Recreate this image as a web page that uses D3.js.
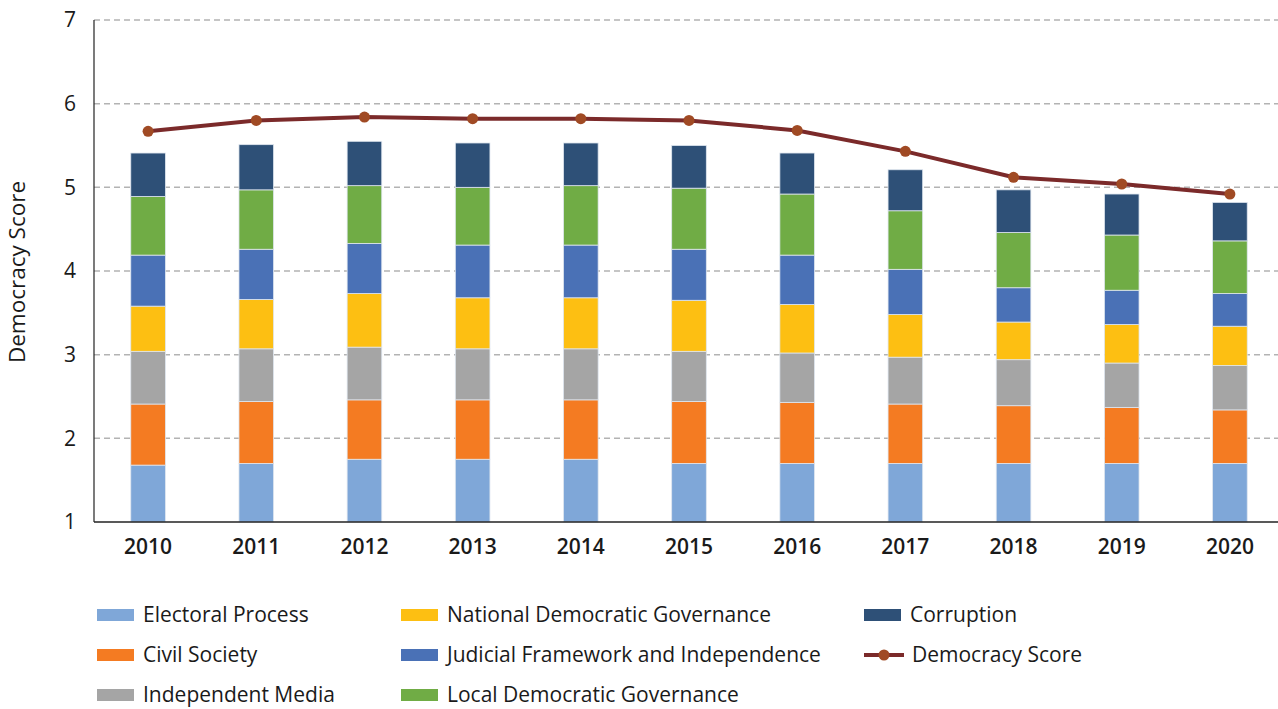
<!DOCTYPE html>
<html>
<head>
<meta charset="utf-8">
<script src="https://cdn.jsdelivr.net/npm/d3@7"></script>
<style>
  body { margin: 0; background: #fff; }
  text { font-family: "Open Sans", Lato, sans-serif; fill: #1a1a1a; }
</style>
</head>
<body>
<div class="container"></div>
<script>
// data (segment heights, stacked from 1)
var years = ["2010","2011","2012","2013","2014","2015","2016","2017","2018","2019","2020"];
var categories = ["Electoral Process","Civil Society","Independent Media","National Democratic Governance",
  "Judicial Framework and Independence","Local Democratic Governance","Corruption"];
var colors = ["#7fa7d8","#f47b22","#a5a5a5","#fdbf12","#4a71b6","#70ac45","#2e5077"];

var electoral   = [0.68,0.70,0.75,0.75,0.75,0.70,0.70,0.70,0.70,0.70,0.70];
var civil       = [0.73,0.74,0.71,0.71,0.71,0.74,0.73,0.71,0.69,0.67,0.64];
var media       = [0.63,0.63,0.63,0.61,0.61,0.60,0.59,0.56,0.55,0.53,0.53];
var national    = [0.54,0.59,0.64,0.61,0.61,0.61,0.58,0.51,0.45,0.46,0.47];
var judicial    = [0.61,0.60,0.60,0.63,0.63,0.61,0.59,0.54,0.41,0.41,0.39];
var local       = [0.70,0.71,0.69,0.69,0.71,0.73,0.73,0.70,0.66,0.66,0.63];
var corruption  = [0.52,0.54,0.53,0.53,0.51,0.51,0.49,0.49,0.51,0.49,0.46];
var democracyScore = [5.67,5.80,5.84,5.82,5.82,5.80,5.68,5.43,5.12,5.04,4.92];

var yTicks = [1,2,3,4,5,6,7];

var series = [electoral,civil,media,national,judicial,local,corruption];
var rows = years.map(function(y,i) {
  var r = {year:y};
  categories.forEach(function(c,j) { r[c] = series[j][i]; });
  return r;
});

var W = 1278, H = 709;
var plotLeft = 94, plotRight = 1284, plotTop = 20, plotBottom = 522;

var svg = d3.select(".container").append("svg")
  .attr("width",W).attr("height",H);

var x = d3.scaleBand().domain(years).range([plotLeft,plotRight]).paddingInner(0.68).paddingOuter(0.34);
var y = d3.scaleLinear().domain([1,7]).range([plotBottom,plotTop]);

// gridlines
svg.append("g").selectAll("line")
  .data(yTicks.slice(1))
  .enter().append("line")
  .attr("x1",plotLeft).attr("x2",1278)
  .attr("y1",function(d){return y(d);}).attr("y2",function(d){return y(d);})
  .style("stroke","#b3b3b3").style("stroke-width",1.5).style("stroke-dasharray","6,4");

// y tick labels
svg.append("g").selectAll("text")
  .data(yTicks)
  .enter().append("text")
  .attr("x",76).attr("y",function(d){return y(d);})
  .attr("dy","0.35em").attr("text-anchor","end")
  .style("font-size","21px")
  .text(function(d){return d;});

// stacked bars
var stack = d3.stack().keys(categories)(rows);
svg.append("g").selectAll("g")
  .data(stack)
  .enter().append("g")
  .style("fill",function(d,i){return colors[i];})
  .selectAll("rect")
  .data(function(d){return d;})
  .enter().append("rect")
  .attr("x",function(d){return x(d.data.year);})
  .attr("width",x.bandwidth())
  .attr("y",function(d){return y(1+d[1]);})
  .attr("height",function(d){return y(1+d[0]) - y(1+d[1]);})
  .style("stroke","#dfe6ef").style("stroke-width",0.8);

// axes lines
svg.append("line").attr("x1",plotLeft).attr("x2",plotLeft).attr("y1",plotTop).attr("y2",plotBottom)
  .style("stroke","#222").style("stroke-width",1.2);
svg.append("line").attr("x1",plotLeft).attr("x2",1278).attr("y1",plotBottom).attr("y2",plotBottom)
  .style("stroke","#222").style("stroke-width",1.5);

// x labels
svg.append("g").selectAll("text")
  .data(years)
  .enter().append("text")
  .attr("x",function(d){return x(d)+x.bandwidth()/2;})
  .attr("y",554).attr("text-anchor","middle")
  .style("font-size","21px").style("font-weight","600")
  .text(function(d){return d;});

// y title
svg.append("text")
  .attr("transform","translate(25,272) rotate(-90)")
  .attr("text-anchor","middle")
  .style("font-size","22.5px")
  .text("Democracy Score");

// democracy score line
var line = d3.line()
  .x(function(d,i){return x(years[i])+x.bandwidth()/2;})
  .y(function(d){return y(d);});
svg.append("path").datum(democracyScore)
  .attr("d",line)
  .style("fill","none").style("stroke","#7b2a2a").style("stroke-width",4);
svg.append("g").selectAll("circle")
  .data(democracyScore)
  .enter().append("circle")
  .attr("cx",function(d,i){return x(years[i])+x.bandwidth()/2;})
  .attr("cy",function(d){return y(d);})
  .attr("r",5.5)
  .style("fill","#a04a24");

// legend
var legendItems = [
  {name:categories[0], col:0, row:0, c:colors[0]},
  {name:categories[1], col:0, row:1, c:colors[1]},
  {name:categories[2], col:0, row:2, c:colors[2]},
  {name:categories[3], col:1, row:0, c:colors[3]},
  {name:categories[4], col:1, row:1, c:colors[4]},
  {name:categories[5], col:1, row:2, c:colors[5]},
  {name:categories[6], col:2, row:0, c:colors[6]},
  {name:"Democracy Score", col:2, row:1, line:true}
];
var colX = [97,401,864];
var rowY = [615,655,695];
var lg = svg.append("g").selectAll("g")
  .data(legendItems)
  .enter().append("g")
  .attr("transform",function(d){return "translate("+colX[d.col]+","+rowY[d.row]+")";});
lg.filter(function(d){return !d.line;}).append("rect")
  .attr("x",0).attr("y",-6).attr("width",37).attr("height",12)
  .style("fill",function(d){return d.c;});
lg.filter(function(d){return d.line;}).append("line")
  .attr("x1",0).attr("x2",40).attr("y1",0).attr("y2",0)
  .style("stroke","#7b2a2a").style("stroke-width",4);
lg.filter(function(d){return d.line;}).append("circle")
  .attr("cx",20).attr("cy",0).attr("r",5.5).style("fill","#a04a24");
lg.append("text")
  .attr("x",function(d){return d.line ? 48 : 46;})
  .attr("y",0).attr("dy","0.35em")
  .style("font-size","21px")
  .text(function(d){return d.name;});
</script>
</body>
</html>
